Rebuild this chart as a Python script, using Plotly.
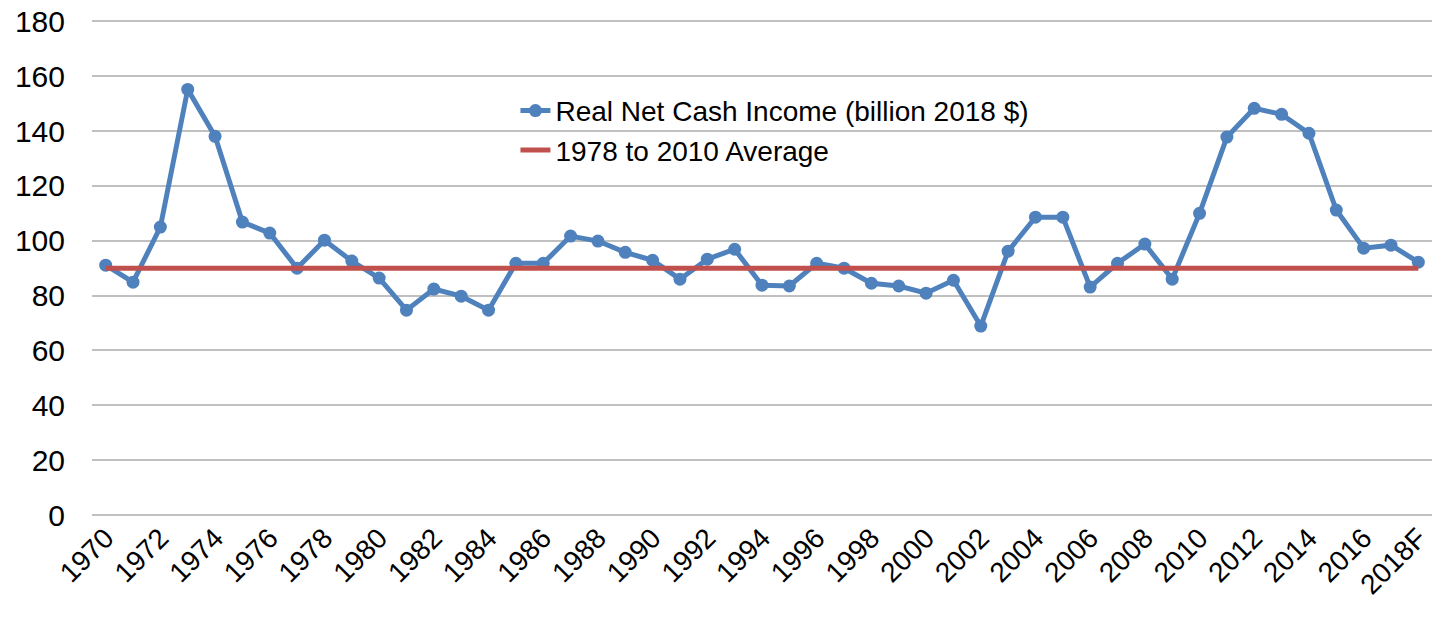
import plotly.graph_objects as go

years = [str(y) for y in range(1970, 2018)] + ["2018F"]
income = [91.1, 84.9, 105.0, 155.2, 138.1, 106.8, 102.8, 90.0, 100.2, 92.6,
          86.4, 74.7, 82.4, 79.8, 74.7, 91.8, 91.8, 101.7, 99.9, 95.8,
          92.9, 86.0, 93.3, 96.9, 83.8, 83.5, 91.8, 90.0, 84.5, 83.5,
          80.9, 85.6, 68.9, 96.2, 108.6, 108.6, 83.1, 91.8, 98.8, 86.0,
          110.0, 137.8, 148.3, 146.1, 139.2, 111.2, 97.3, 98.4, 92.2]
average_value = 90.0
average = [average_value] * len(years)

tick_labels = years[::2]
y_ticks = list(range(0, 181, 20))

FONT = "Arial, 'Liberation Sans', sans-serif"

fig = go.Figure()
fig.add_trace(go.Scatter(
    x=years, y=income, mode="lines+markers",
    name="Real Net Cash Income (billion 2018 $)",
    line=dict(color="#4F81BD", width=5),
    marker=dict(color="#4F81BD", size=13, symbol="circle"),
))
fig.add_trace(go.Scatter(
    x=years, y=average, mode="lines",
    name="1978 to 2010 Average",
    line=dict(color="#C0504D", width=5),
))

fig.update_layout(
    width=1432, height=622,
    margin=dict(l=92, r=0, t=20, b=107),
    paper_bgcolor="white", plot_bgcolor="white",
    font=dict(family=FONT, size=28, color="#000000"),
    showlegend=True,
    legend=dict(x=0.316, y=0.867, xanchor="left", yanchor="top",
                bgcolor="rgba(0,0,0,0)", font=dict(size=28, family=FONT),
                tracegroupgap=0, itemwidth=30),
)
fig.update_xaxes(
    type="category", categoryorder="array", categoryarray=years,
    range=[-0.5, len(years) - 0.5], automargin=False,
    tickmode="array", tickvals=tick_labels, ticktext=tick_labels,
    tickangle=-45, showgrid=False, showline=False, ticks="",
    tickfont=dict(size=28, family=FONT), ticklabeloverflow="allow",
)
fig.update_yaxes(
    range=[0, 180.5], tickmode="array", tickvals=y_ticks,
    automargin=False, ticklabeloverflow="allow",
    showgrid=True, gridcolor="#C0C0C0", gridwidth=2,
    zeroline=True, zerolinecolor="#C0C0C0", zerolinewidth=2,
    showline=False, ticks="", ticklabelstandoff=26,
    tickfont=dict(size=30, family=FONT),
)

fig.write_html("out.html",
               config={"displayModeBar": False},
               post_script="document.body.style.margin='0';document.body.style.overflow='hidden';")
